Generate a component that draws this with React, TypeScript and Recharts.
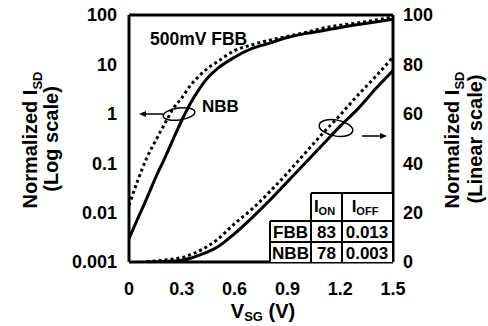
import React from "react";
import { LineChart, Line, XAxis, YAxis, ReferenceLine } from "recharts";

// ---- data ----
const vsg = [0, 0.05, 0.1, 0.15, 0.2, 0.25, 0.3, 0.35, 0.4, 0.45, 0.5, 0.6, 0.7, 0.8, 0.9, 1.0, 1.1, 1.2, 1.3, 1.4, 1.5];
const nbbLog = [0.003, 0.0076, 0.019, 0.05, 0.12, 0.3, 0.74, 1.66, 3.2, 5.5, 8.1, 14, 21, 27, 35, 42, 48, 56, 64, 72, 82];
const fbbLog = [0.014, 0.045, 0.126, 0.28, 0.6, 1.26, 2.1, 3.8, 5.9, 8.5, 11.2, 19, 25, 31, 37, 44, 54, 62, 69, 79, 91];
const fbbLin = [null, null, 0.2, 0.4, 0.8, 1.2, 1.8, 3, 4.5, 6.5, 9, 15.5, 21.5, 28.5, 36, 44, 52, 59.5, 67.5, 75, 83];
const nbbLin = [null, null, 0, 0, 0.2, 0.4, 0.7, 1.5, 2.8, 4.2, 6, 11.5, 18, 25, 32.5, 40, 47.5, 55, 62, 70, 77.5];

const xTicks = [0, 0.3, 0.6, 0.9, 1.2, 1.5];
const logTicks = [0.001, 0.01, 0.1, 1, 10, 100];
const linTicks = [0, 20, 40, 60, 80, 100];

const tableHeader = ["ON", "OFF"];
const tableRows = [
  ["FBB", "83", "0.013"],
  ["NBB", "78", "0.003"],
];

const data = vsg.map((v, i) => ({
  v,
  nbbLog: nbbLog[i],
  fbbLog: fbbLog[i],
  nbbLin: nbbLin[i],
  fbbLin: fbbLin[i],
}));

const FONT = "'Liberation Sans', Arial, Helvetica, sans-serif";
const W = 488;
const H = 326;

const tickStyle = { fill: "#000", fontSize: 18, fontWeight: 700, fontFamily: FONT };

function Overlay() {
  const tf = { fontFamily: FONT, fontWeight: 700, fill: "#000" } as const;
  // table geometry
  const cols = [270, 311, 342, 392];
  const rowsY = [193, 221, 242, 262];
  return (
    <svg width={W} height={H} style={{ position: "absolute", left: 0, top: 0, pointerEvents: "none" }}>
      {/* left axis title */}
      <text {...tf} fontSize={20} textAnchor="middle" transform="translate(37,140) rotate(-90)">
        Normalized I<tspan fontSize={13} dy={5}>SD</tspan>
      </text>
      <text {...tf} fontSize={20} textAnchor="middle" transform="translate(58,139) rotate(-90)">
        (Log scale)
      </text>
      {/* right axis title */}
      <text {...tf} fontSize={20} textAnchor="middle" transform="translate(459,140) rotate(-90)">
        Normalized I<tspan fontSize={13} dy={5}>SD</tspan>
      </text>
      <text {...tf} fontSize={20} textAnchor="middle" transform="translate(482,139) rotate(-90)">
        (Linear scale)
      </text>
      {/* x axis title */}
      <text {...tf} fontSize={20} textAnchor="middle" x={263} y={318}>
        V<tspan fontSize={13} dy={3}>SG</tspan>
        <tspan dy={-3}> (V)</tspan>
      </text>

      {/* annotations */}
      <text {...tf} fontSize={17.5} x={150} y={45}>500mV FBB</text>
      <text {...tf} fontSize={17} x={202} y={112}>NBB</text>

      {/* left loop + arrow */}
      <ellipse cx={179} cy={114} rx={16} ry={6} fill="none" stroke="#000" strokeWidth={1.5} transform="rotate(-8,179,114)" />
      <line x1={144} y1={114} x2={163} y2={114} stroke="#000" strokeWidth={1.5} />
      <polygon points="139,114 146,111 146,117" fill="#000" />

      {/* right loop + arrow */}
      <ellipse cx={336} cy={128} rx={17} ry={8} fill="none" stroke="#000" strokeWidth={1.5} transform="rotate(10,336,128)" />
      <line x1={362} y1={136} x2={382} y2={136} stroke="#000" strokeWidth={1.5} />
      <polygon points="387,136 380,133 380,139" fill="#000" />

      {/* table */}
      <rect x={cols[0]} y={rowsY[1]} width={cols[3] - cols[0]} height={rowsY[3] - rowsY[1]} fill="#fff" />
      <rect x={cols[1]} y={rowsY[0]} width={cols[3] - cols[1]} height={rowsY[1] - rowsY[0]} fill="#fff" />
      <g stroke="#000" strokeWidth={2} fill="none">
        <line x1={cols[1]} y1={rowsY[0]} x2={cols[3]} y2={rowsY[0]} />
        <line x1={cols[0]} y1={rowsY[1]} x2={cols[3]} y2={rowsY[1]} />
        <line x1={cols[0]} y1={rowsY[2]} x2={cols[3]} y2={rowsY[2]} />
        <line x1={cols[0]} y1={rowsY[1]} x2={cols[0]} y2={rowsY[3]} />
        <line x1={cols[1]} y1={rowsY[0]} x2={cols[1]} y2={rowsY[3]} />
        <line x1={cols[2]} y1={rowsY[0]} x2={cols[2]} y2={rowsY[3]} />
      </g>
      <text {...tf} fontSize={17} textAnchor="middle" x={(cols[1] + cols[2]) / 2 - 2} y={212}>
        I<tspan fontSize={11} dy={3}>{tableHeader[0]}</tspan>
      </text>
      <text {...tf} fontSize={17} textAnchor="middle" x={(cols[2] + cols[3]) / 2 - 2} y={212}>
        I<tspan fontSize={11} dy={3}>{tableHeader[1]}</tspan>
      </text>
      {tableRows.map((r, ri) => (
        <g key={ri}>
          {r.map((c, ci) => (
            <text key={ci} {...tf} fontSize={17} textAnchor="middle" x={(cols[ci] + cols[ci + 1]) / 2} y={rowsY[ri + 1] + 17}>
              {c}
            </text>
          ))}
        </g>
      ))}
    </svg>
  );
}

export default function App() {
  return (
    <div style={{ position: "absolute", left: 0, top: 0, width: W, height: H, background: "#fff" }}>
      <LineChart width={W} height={H} data={data} margin={{ top: 15, right: 35, bottom: 34, left: 69 }}>
        <XAxis
          dataKey="v"
          type="number"
          domain={[0, 1.5]}
          ticks={xTicks}
          tickFormatter={(v: number) => (v === 0 ? "0" : v.toFixed(1))}
          axisLine={{ stroke: "#000", strokeWidth: 3 }}
          tickLine={false}
          tickSize={0}
          tickMargin={20}
          height={30}
          tick={tickStyle}
          allowDataOverflow
        />
        <YAxis
          yAxisId="log"
          orientation="left"
          scale="log"
          domain={[0.001, 100]}
          ticks={logTicks}
          tickFormatter={(v: number) => String(v)}
          axisLine={{ stroke: "#000", strokeWidth: 3 }}
          tickLine={false}
          tickSize={0}
          tickMargin={12}
          width={60}
          tick={tickStyle}
          allowDataOverflow
        />
        <YAxis
          yAxisId="lin"
          orientation="right"
          domain={[0, 100]}
          ticks={linTicks}
          axisLine={{ stroke: "#000", strokeWidth: 3 }}
          tickLine={false}
          tickSize={0}
          tickMargin={10}
          width={60}
          tick={tickStyle}
          allowDataOverflow
        />
        <ReferenceLine yAxisId="lin" y={100} stroke="#000" strokeWidth={3} />
        <Line yAxisId="log" dataKey="fbbLog" type="monotone" stroke="#000" strokeWidth={3} strokeDasharray="3 3" dot={false} isAnimationActive={false} />
        <Line yAxisId="log" dataKey="nbbLog" type="monotone" stroke="#000" strokeWidth={3} dot={false} isAnimationActive={false} />
        <Line yAxisId="lin" dataKey="fbbLin" type="monotone" stroke="#000" strokeWidth={3} strokeDasharray="3 3" dot={false} isAnimationActive={false} connectNulls={false} />
        <Line yAxisId="lin" dataKey="nbbLin" type="monotone" stroke="#000" strokeWidth={3} dot={false} isAnimationActive={false} connectNulls={false} />
      </LineChart>
      <Overlay />
    </div>
  );
}
